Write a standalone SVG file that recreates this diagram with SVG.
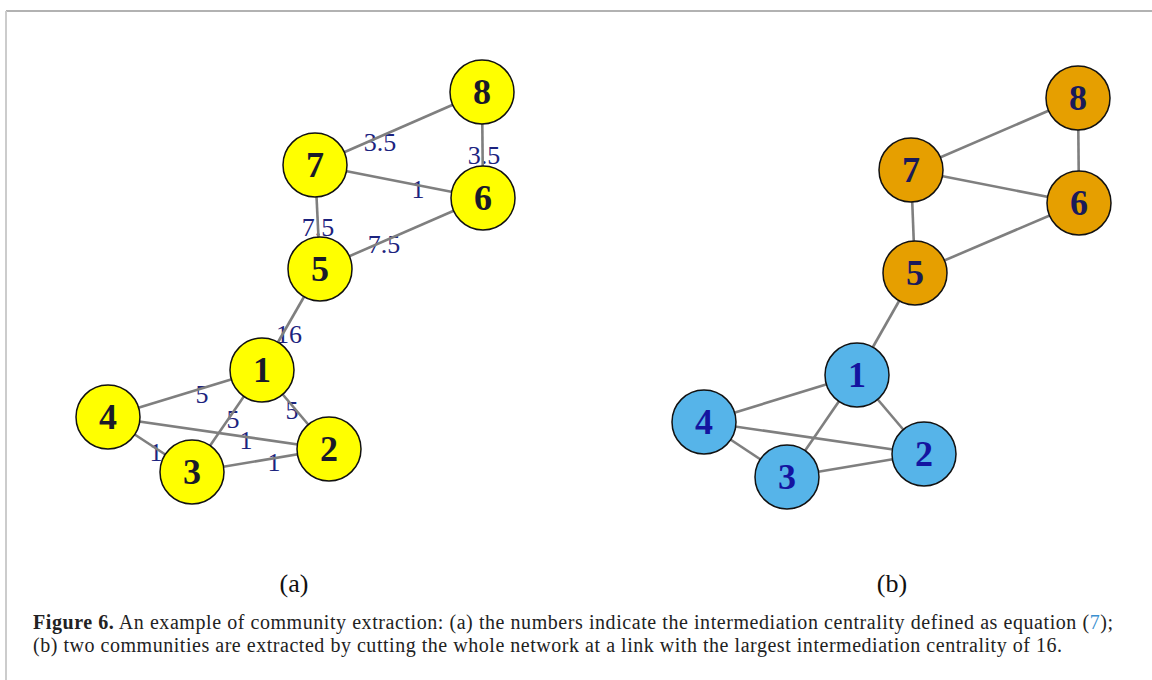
<svg xmlns="http://www.w3.org/2000/svg" width="1152" height="680" viewBox="0 0 1152 680">
<style>
.edge{stroke:#7f7f7f;stroke-width:2.6;fill:none}
.nd{stroke:#111;stroke-width:1.5}
.y{fill:#ffff00}
.o{fill:#e69f00}
.b{fill:#56b4e9}
.nl{font-family:"Liberation Serif","Times New Roman",Times,serif;font-weight:bold;font-size:36px;text-anchor:middle}
.el{font-family:"Liberation Serif","Times New Roman",Times,serif;font-size:26px;fill:#1c237e;text-anchor:middle}
.cap{font-family:"Liberation Serif","Times New Roman",Times,serif;font-size:20px;fill:#222}
.sub{font-family:"Liberation Serif","Times New Roman",Times,serif;font-size:26px;fill:#111;text-anchor:middle}
</style>
<rect width="1152" height="680" fill="#fff"/>
<line x1="6" y1="11" x2="1152" y2="11" stroke="#999" stroke-width="1.5"/>
<line x1="6" y1="11" x2="6" y2="680" stroke="#ccc" stroke-width="2"/>

<g id="edge-labels-a">
<text class="el" x="380" y="151">3.5</text>
<text class="el" x="484" y="164">3.5</text>
<text class="el" x="418" y="198">1</text>
<text class="el" x="318" y="236">7.5</text>
<text class="el" x="384" y="253">7.5</text>
<text class="el" x="289" y="343">16</text>
<text class="el" x="202" y="403">5</text>
<text class="el" x="233" y="428">5</text>
<text class="el" x="292" y="419">5</text>
<text class="el" x="246" y="449">1</text>
<text class="el" x="156" y="461">1</text>
<text class="el" x="274" y="471">1</text>
</g>

<g id="connectors">
<line class="edge" x1="482" y1="92" x2="315" y2="165"/>
<line class="edge" x1="482" y1="92" x2="483" y2="198"/>
<line class="edge" x1="315" y1="165" x2="483" y2="198"/>
<line class="edge" x1="315" y1="165" x2="320" y2="269"/>
<line class="edge" x1="320" y1="269" x2="483" y2="198"/>
<line class="edge" x1="320" y1="269" x2="262" y2="370"/>
<line class="edge" x1="262" y1="370" x2="108" y2="417"/>
<line class="edge" x1="262" y1="370" x2="192" y2="472"/>
<line class="edge" x1="262" y1="370" x2="329" y2="449"/>
<line class="edge" x1="108" y1="417" x2="329" y2="449"/>
<line class="edge" x1="108" y1="417" x2="192" y2="472"/>
<line class="edge" x1="192" y1="472" x2="329" y2="449"/>

<line class="edge" x1="1078" y1="98" x2="911" y2="170"/>
<line class="edge" x1="1078" y1="98" x2="1079" y2="203"/>
<line class="edge" x1="911" y1="170" x2="1079" y2="203"/>
<line class="edge" x1="911" y1="170" x2="915" y2="273"/>
<line class="edge" x1="915" y1="273" x2="1079" y2="203"/>
<line class="edge" x1="915" y1="273" x2="857" y2="375"/>
<line class="edge" x1="857" y1="375" x2="704" y2="422"/>
<line class="edge" x1="857" y1="375" x2="787" y2="477"/>
<line class="edge" x1="857" y1="375" x2="924" y2="454"/>
<line class="edge" x1="704" y1="422" x2="924" y2="454"/>
<line class="edge" x1="704" y1="422" x2="787" y2="477"/>
<line class="edge" x1="787" y1="477" x2="924" y2="454"/>
</g>

<g id="a-node-8"><circle class="nd y" cx="482" cy="92" r="32"/><text class="nl" x="482" y="104" fill="#1a1a2a">8</text></g>
<g id="a-node-7"><circle class="nd y" cx="315" cy="165" r="32"/><text class="nl" x="315" y="177" fill="#1a1a2a">7</text></g>
<g id="a-node-6"><circle class="nd y" cx="483" cy="198" r="32"/><text class="nl" x="483" y="210" fill="#1a1a2a">6</text></g>
<g id="a-node-5"><circle class="nd y" cx="320" cy="269" r="32"/><text class="nl" x="320" y="281" fill="#1a1a2a">5</text></g>
<g id="a-node-1"><circle class="nd y" cx="262" cy="370" r="32"/><text class="nl" x="262" y="382" fill="#1a1a2a">1</text></g>
<g id="a-node-4"><circle class="nd y" cx="108" cy="417" r="32"/><text class="nl" x="108" y="429" fill="#1a1a2a">4</text></g>
<g id="a-node-2"><circle class="nd y" cx="329" cy="449" r="32"/><text class="nl" x="329" y="461" fill="#1a1a2a">2</text></g>
<g id="a-node-3"><circle class="nd y" cx="192" cy="472" r="32"/><text class="nl" x="192" y="484" fill="#1a1a2a">3</text></g>

<g id="b-node-8"><circle class="nd o" cx="1078" cy="98" r="32"/><text class="nl" x="1078" y="110" fill="#1a1a5a">8</text></g>
<g id="b-node-7"><circle class="nd o" cx="911" cy="170" r="32"/><text class="nl" x="911" y="182" fill="#1a1a5a">7</text></g>
<g id="b-node-6"><circle class="nd o" cx="1079" cy="203" r="32"/><text class="nl" x="1079" y="215" fill="#1a1a5a">6</text></g>
<g id="b-node-5"><circle class="nd o" cx="915" cy="273" r="32"/><text class="nl" x="915" y="285" fill="#1a1a5a">5</text></g>
<g id="b-node-1"><circle class="nd b" cx="857" cy="375" r="32"/><text class="nl" x="857" y="387" fill="#1414a0">1</text></g>
<g id="b-node-4"><circle class="nd b" cx="704" cy="422" r="32"/><text class="nl" x="704" y="434" fill="#1414a0">4</text></g>
<g id="b-node-2"><circle class="nd b" cx="924" cy="454" r="32"/><text class="nl" x="924" y="466" fill="#1414a0">2</text></g>
<g id="b-node-3"><circle class="nd b" cx="787" cy="477" r="32"/><text class="nl" x="787" y="489" fill="#1414a0">3</text></g>

<g id="captions">
<text class="sub" x="294" y="592">(a)</text>
<text class="sub" x="892" y="592">(b)</text>
<text class="cap" x="33" y="629" textLength="1080" lengthAdjust="spacing"><tspan font-weight="bold">Figure 6.</tspan> An example of community extraction: (a) the numbers indicate the intermediation centrality defined as equation (<tspan fill="#3a8fd0">7</tspan>);</text>
<text class="cap" x="33" y="652" textLength="1029" lengthAdjust="spacing">(b) two communities are extracted by cutting the whole network at a link with the largest intermediation centrality of 16.</text>
</g>
</svg>
